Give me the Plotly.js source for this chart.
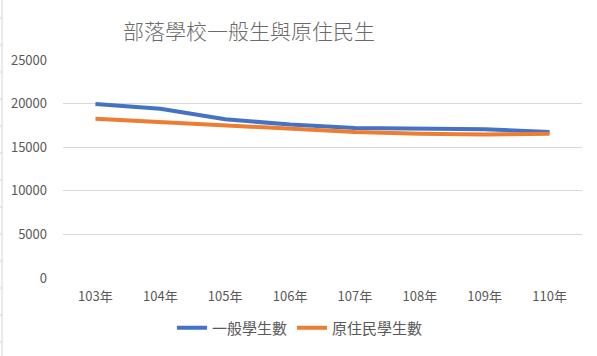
<!DOCTYPE html>
<html><head><meta charset="utf-8">
<script src="https://cdn.plot.ly/plotly-3.0.1.min.js"></script>
<style>html,body{margin:0;padding:0;background:#fff;}#chart{width:597px;height:356px;}</style>
</head><body><div id="chart"></div>
<script>
const categories = ['103年','104年','105年','106年','107年','108年','109年','110年'];
const generalStudents = [19950, 19400, 18200, 17600, 17200, 17150, 17050, 16750];
const indigenousStudents = [18250, 17900, 17450, 17100, 16750, 16550, 16450, 16550];
const seriesNames = ['一般學生數', '原住民學生數'];
const yTicks = [0, 5000, 10000, 15000, 20000, 25000];

const font = '"Noto Sans CJK TC", "Noto Sans", sans-serif';
const W = 597, H = 356, ml = 63, mr = 15, mt = 60, mb = 78;
const pw = W - ml - mr, ph = H - mt - mb;
const px = x => (x - ml) / pw;
const py = y => (H - mb - y) / ph;

const shapes = [{type:'line', xref:'paper', yref:'paper', x0:px(2), x1:px(2), y0:py(0), y1:py(H), line:{color:'#d4d4d4', width:1}}];
for (let y = 18; y < H; y += 27) {
  shapes.push({type:'line', xref:'paper', yref:'paper', x0:px(0), x1:px(2), y0:py(y), y1:py(y), line:{color:'#d4d4d4', width:1}});
}

const data = [
  {x: categories, y: generalStudents, name: seriesNames[0], type:'scatter', mode:'lines', line:{color:'#4472C4', width:4}},
  {x: categories, y: indigenousStudents, name: seriesNames[1], type:'scatter', mode:'lines', line:{color:'#ED7D31', width:4}}
];
const layout = {
  width: W, height: H,
  margin: {l: ml, r: mr, t: mt, b: mb, pad: 0},
  paper_bgcolor: '#fff', plot_bgcolor: '#fff',
  font: {family: font, color: '#595959', size: 13},
  title: {text: '部落學校一般生與原住民生', font: {family: font, size: 21, color: '#6a6a6a', weight: 300}, x: 249/W, xanchor: 'center', y: 1 - 32/H, yanchor: 'middle'},
  xaxis: {type:'category', range:[-0.5, 7.5], showgrid:false, zeroline:false, showline:false, ticks:'', tickfont:{size:13, color:'#595959'}, ticklabelstandoff: 9},
  yaxis: {range:[0, 25000], tickvals: yTicks, ticktext: yTicks.map(String), showgrid:true, gridcolor:'#d9d9d9', gridwidth:1, zeroline:false, showline:false, ticks:'', tickfont:{size:13, color:'#595959'}, ticklabelstandoff: 15},
  showlegend: true,
  legend: {orientation:'h', x: px(300), xanchor:'center', y: py(328), yanchor:'middle', font:{size:15, color:'#595959'}, itemwidth: 30, traceorder:'normal'},
  shapes: shapes
};
Plotly.newPlot('chart', data, layout, {displayModeBar:false, staticPlot:true});
</script></body></html>
